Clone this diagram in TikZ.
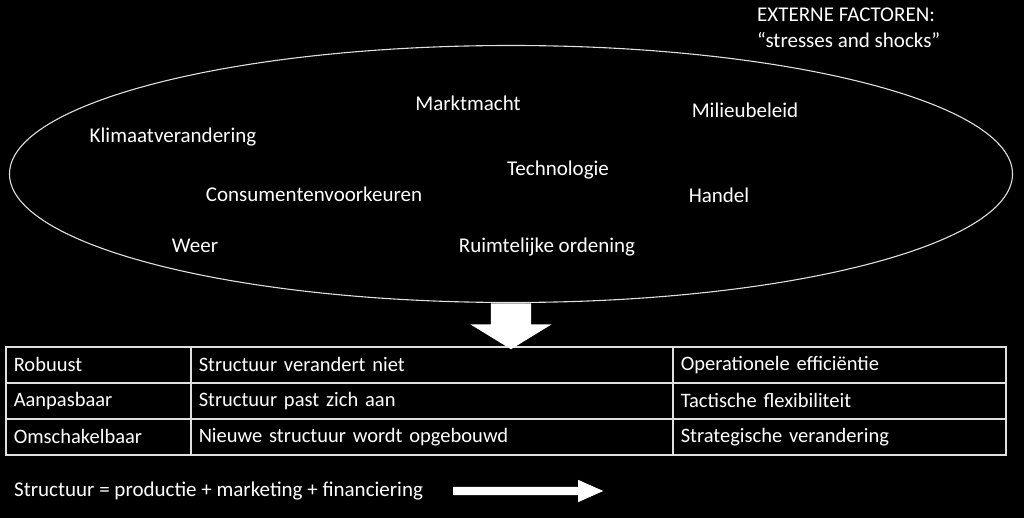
\documentclass[tikz,border=0pt]{standalone}
\usepackage{fontspec}
\setmainfont{Carlito}
\usetikzlibrary{positioning, shapes.geometric, shapes.arrows}

\begin{document}
\begin{tikzpicture}[x=1pt, y=-1pt,
    lbl/.style={text=white, font=\fontsize{21}{26}\selectfont, inner sep=0pt},
    cell/.style={draw=white!88!black, line width=1.5pt, text=white, anchor=north west,
                 font=\fontsize{20.5}{24}\selectfont, minimum height=36pt, inner xsep=8pt, align=left},
    bigarr/.style={single arrow, fill=white, draw=none, single arrow head indent=0pt}]
  \fill[black] (0,0) rectangle (1024,518);
  \useasboundingbox (0,0) rectangle (1024,518);
  % external factors
  \node[ellipse, draw=white!88!black, line width=1.1pt, minimum width=1003pt,
        minimum height=257pt, inner sep=0pt] (ext) at (511,174) {};
  \node[lbl, align=left, anchor=north west] (extf) at (757,8) {EXTERNE FACTOREN:\\“stresses and shocks”};
  \node[lbl] (klimaat) at (173,137) {Klimaatverandering};
  \node[lbl] (markt)   at (468,103) {Marktmacht};
  \node[lbl] (milieu)  at (745,110) {Milieubeleid};
  \node[lbl] (techn)   at (558,170) {Technologie};
  \node[lbl] (consu)   at (314,194) {Consumentenvoorkeuren};
  \node[lbl] (handel)  at (719,195) {Handel};
  \node[lbl] (weer)    at (195,246) {Weer};
  \node[lbl] (ruimte)  at (547,247) {Ruimtelijke ordening};
  % table
  \foreach \a/\b/\c [count=\i from 0] in {Robuust/Structuur verandert niet/Operationele efficiëntie,
      Aanpasbaar/Structuur past zich aan/Tactische flexibiliteit,
      Omschakelbaar/Nieuwe structuur wordt opgebouwd/Strategische verandering} {
    \node[cell, text width=169pt] (a\i) at (5,346+36*\i) {\a};
    \node[cell, text width=466pt] (b\i) at (190,346+36*\i) {\b};
    \node[cell, text width=317pt] (c\i) at (672,346+36*\i) {\c};
  }
  \node[bigarr, shape border rotate=270, anchor=tail, inner xsep=20pt, inner ysep=0pt, minimum height=46pt,
        single arrow head extend=20.5pt, single arrow tip angle=117] (down) at (ext.south) {};
  % bottom line
  \node[lbl, anchor=west] (note) at (14,491) {Structuur = productie + marketing + financiering};
  \node[bigarr, anchor=tail, inner xsep=0pt, inner ysep=4pt, minimum height=150pt,
        single arrow head extend=7pt, single arrow tip angle=48] (flow) at (453,491) {};
\end{tikzpicture}
\end{document}
